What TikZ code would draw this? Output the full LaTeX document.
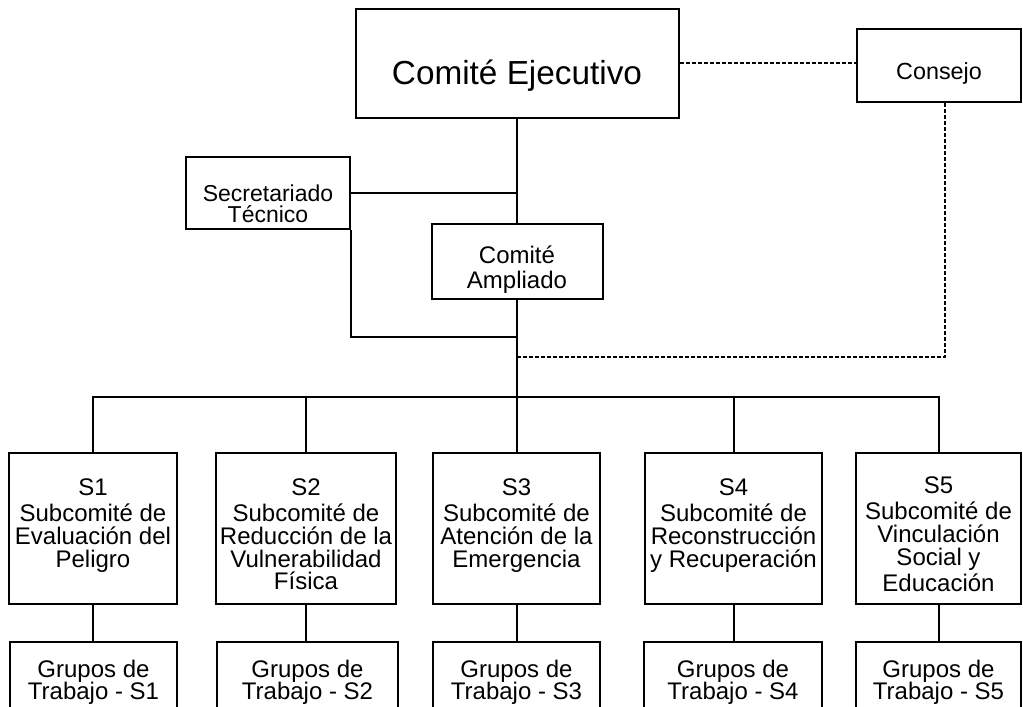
\documentclass[tikz,border=0pt]{standalone}
\usepackage{fontspec}
\setmainfont{Liberation Sans}
\usetikzlibrary{positioning}

% text of a box: height, first baseline from the top, rows split by \cr
\newcommand{\boxtext}[3]{%
    \vbox to #1{\lineskiplimit=-\maxdimen
        \kern\dimexpr #2-\baselineskip\relax
        \hbox{}%
        \halign{\hfil##\hfil\cr #3\crcr}%
        \vss}}

\begin{document}
\begin{tikzpicture}[x = 0.75pt, y = -0.75pt,
    box/.style = {draw, line width = 1.5pt, inner sep = 0pt, font = \fontsize{18}{17}\selectfont},
    grp/.style = {box, font = \fontsize{18}{16.5}\selectfont},
    link/.style = {line width = 1.5pt},
    dlink/.style = {line width = 1.5pt, dash pattern = on 3pt off 1.5pt}]
    \useasboundingbox (0,0) rectangle (1023,706);

    % top
    \node[box, minimum width = 242.25pt, font = \fontsize{25}{30}\selectfont] (CE) at (517,63.5)
        {\boxtext{81.75pt}{57pt}{Comité Ejecutivo}};
    \node[box, minimum width = 123pt, font = \fontsize{17.5}{18}\selectfont] (CONS) at (939,65.5)
        {\boxtext{54.75pt}{38.25pt}{Consejo}};
    \node[box, minimum width = 123pt, font = \fontsize{17.25}{15.75}\selectfont] (SEC) at (268,193)
        {\boxtext{54pt}{33pt}{Secretariado\cr Técnico}};
    \node[box, minimum width = 128.25pt, font = \fontsize{18}{18.75}\selectfont] (AMP) at (517,261.5)
        {\boxtext{56.25pt}{29.25pt}{Comité\cr Ampliado}};
    \coordinate (JOIN) at (517,337);
    \coordinate (LINK) at (517,357);
    \coordinate (BUS) at (517,397);

    % subcomites
    \node[box, minimum width = 126pt] (S1) at (93,528.5)
        {\boxtext{113.25pt}{31.5pt}{S1\cr\noalign{\vskip 3pt}Subcomité de\cr Evaluación del\cr Peligro}};
    \node[box, minimum width = 135pt] (S2) at (306,528.5)
        {\boxtext{113.25pt}{31.5pt}{S2\cr\noalign{\vskip 3pt}Subcomité de\cr Reducción de la\cr Vulnerabilidad\cr Física}};
    \node[box, minimum width = 125.25pt] (S3) at (516.5,528.5)
        {\boxtext{113.25pt}{31.5pt}{S3\cr\noalign{\vskip 3pt}Subcomité de\cr Atención de la\cr Emergencia}};
    \node[box, minimum width = 132.75pt] (S4) at (733.5,528.5)
        {\boxtext{113.25pt}{31.5pt}{S4\cr\noalign{\vskip 3pt}Subcomité de\cr Reconstrucción\cr y Recuperación}};
    \node[box, minimum width = 123.75pt] (S5) at (938.5,528.5)
        {\boxtext{113.25pt}{30pt}{S5\cr\noalign{\vskip 3pt}Subcomité de\cr Vinculación\cr Social y\cr\noalign{\vskip 3pt}Educación}};

    % grupos de trabajo
    \node[grp, minimum width = 125.25pt] (G1) at (93.5,680) {\boxtext{57pt}{26.25pt}{Grupos de\cr Trabajo - S1}};
    \node[grp, minimum width = 135.75pt] (G2) at (307.5,680) {\boxtext{57pt}{26.25pt}{Grupos de\cr Trabajo - S2}};
    \node[grp, minimum width = 125.25pt] (G3) at (516.5,680) {\boxtext{57pt}{26.25pt}{Grupos de\cr Trabajo - S3}};
    \node[grp, minimum width = 133.5pt] (G4) at (733,680) {\boxtext{57pt}{26.25pt}{Grupos de\cr Trabajo - S4}};
    \node[grp, minimum width = 123.75pt] (G5) at (938.5,680) {\boxtext{57pt}{26.25pt}{Grupos de\cr Trabajo - S5}};

    % lines
    \draw[link] (CE.south) -- (AMP.north);
    \draw[link] (SEC.east) -- (SEC.east -| CE.south);
    \draw[link] (SEC.south east) |- (JOIN);
    \draw[link] (AMP.south) -- (BUS);
    \draw[link] (S1.north) |- (BUS) -| (S5.north);
    \draw[link] (S2.north) -- (S2.north |- BUS);
    \draw[link] (S3.north) -- (S3.north |- BUS);
    \draw[link] (S4.north) -- (S4.north |- BUS);
    \draw[link] (S1.south) -- (S1.south |- G1.north);
    \draw[link] (S2.south) -- (S2.south |- G2.north);
    \draw[link] (S3.south) -- (S3.south |- G3.north);
    \draw[link] (S4.south) -- (S4.south |- G4.north);
    \draw[link] (S5.south) -- (S5.south |- G5.north);
    \draw[dlink] (CE.east) -- (CE.east -| CONS.west);
    \draw[dlink] ([xshift = 4.5pt]CONS.south) |- (LINK);
\end{tikzpicture}
\end{document}
